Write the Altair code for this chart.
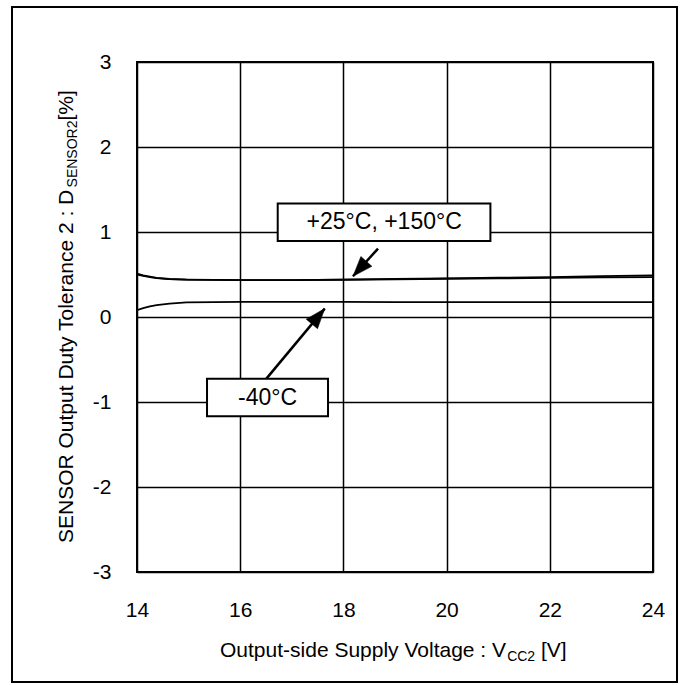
import altair as alt
import pandas as pd

# ---- data ----
voltage = [14.0, 14.12, 14.25, 14.38, 14.63, 14.96, 15.5, 16.0, 17.0, 18.0, 19.0, 20.0, 21.0, 22.0, 23.0, 24.0]
tol_p25 = [0.51, 0.49, 0.475, 0.46, 0.447, 0.44, 0.437, 0.435, 0.435, 0.44, 0.448, 0.455, 0.462, 0.47, 0.48, 0.49]
tol_p150 = [0.50, 0.485, 0.47, 0.458, 0.445, 0.44, 0.437, 0.435, 0.435, 0.438, 0.443, 0.45, 0.455, 0.46, 0.465, 0.47]
tol_m40 = [0.08, 0.105, 0.125, 0.14, 0.158, 0.172, 0.176, 0.177, 0.177, 0.177, 0.176, 0.176, 0.175, 0.175, 0.175, 0.175]

x_ticks = [14, 16, 18, 20, 22, 24]
y_ticks = [-3, -2, -1, 0, 1, 2, 3]

ann_labels = ["+25°C, +150°C", "-40°C"]
box_x1 = [16.727, 15.357]
box_x2 = [20.849, 17.702]
box_y1 = [1.334, -0.725]
box_y2 = [0.894, -1.168]
text_x = [18.79, 16.53]
text_y = [1.038, -1.039]
arrow_x1 = [18.671, 16.508]
arrow_y1 = [0.805, -0.725]
arrow_x2 = [18.186, 17.638]
arrow_y2 = [0.479, 0.099]
arrow_angle = [222, 40]

FONT = "Liberation Sans"
PW, PH = 516, 510
PL, PT = 137, 62

rows = []
for name, vals in [("+25", tol_p25), ("+150", tol_p150), ("-40", tol_m40)]:
    for v, d in zip(voltage, vals):
        rows.append({"series": name, "v": v, "d": d})
lines_df = pd.DataFrame(rows)

ann_df = pd.DataFrame({
    "label": ann_labels, "bx1": box_x1, "bx2": box_x2, "by1": box_y1, "by2": box_y2,
    "tx": text_x, "ty": text_y, "ax1": arrow_x1, "ay1": arrow_y1,
    "ax2": arrow_x2, "ay2": arrow_y2, "ang": arrow_angle,
})

xscale = alt.Scale(domain=[14, 24], nice=False, zero=False)
yscale = alt.Scale(domain=[-3, 3], nice=False, zero=False)

xaxis = alt.Axis(values=x_ticks, title=None, grid=True, gridColor="black", gridWidth=1.5,
                 gridOpacity=1, domain=False, ticks=False, labelFont=FONT, labelFontSize=21,
                 labelColor="black", labelPadding=27, labelFlush=False,
                 labelExpr="'' + datum.value")
yaxis = alt.Axis(values=y_ticks, title=None, grid=True, gridColor="black", gridWidth=1.5,
                 gridOpacity=1, domain=False, ticks=False, labelFont=FONT, labelFontSize=21,
                 labelColor="black", labelPadding=26, labelFlush=False,
                 labelExpr="'' + datum.value")

lines = alt.Chart(lines_df).mark_line(color="black", strokeWidth=1.8, clip=True).encode(
    x=alt.X("v:Q", scale=xscale, axis=xaxis),
    y=alt.Y("d:Q", scale=yscale, axis=yaxis),
    detail="series:N",
)

base_ann = alt.Chart(ann_df)
boxes = base_ann.mark_rect(fill="white", stroke="black", strokeWidth=2).encode(
    x=alt.X("bx1:Q", scale=xscale), x2="bx2:Q",
    y=alt.Y("by1:Q", scale=yscale), y2="by2:Q",
)
labels = base_ann.mark_text(font=FONT, fontSize=23, color="black", align="center",
                            baseline="alphabetic").encode(
    x=alt.X("tx:Q", scale=xscale), y=alt.Y("ty:Q", scale=yscale), text="label:N",
)
arrows = base_ann.mark_rule(color="black", strokeWidth=2.5).encode(
    x=alt.X("ax1:Q", scale=xscale), y=alt.Y("ay1:Q", scale=yscale),
    x2="ax2:Q", y2="ay2:Q",
)
heads = base_ann.mark_point(shape="M0,0L-0.37,1L0.37,1Z", filled=True, fill="black",
                            stroke="black", strokeWidth=0.5, opacity=1, size=1600).encode(
    x=alt.X("ax2:Q", scale=xscale), y=alt.Y("ay2:Q", scale=yscale),
    angle=alt.Angle("ang:Q", scale=None),
)

one = pd.DataFrame({"k": [0]})
frame = alt.Chart(one).mark_rect(fillOpacity=0, stroke="black", strokeWidth=2).encode(
    x=alt.value(12 - PL), x2=alt.value(677 - PL),
    y=alt.value(7 - PT), y2=alt.value(682 - PT),
)

def txt(s, x, y, size, angle=0):
    return alt.Chart(one).mark_text(text=s, font=FONT, fontSize=size, color="black",
                                    align="left", baseline="alphabetic", angle=angle).encode(
        x=alt.value(x), y=alt.value(y))

# x title: "Output-side Supply Voltage : V" + sub "CC2" + " [V]"
xt_x, xt_y = 83, 595
w1 = 13.674 * 21
xt = [
    txt("Output-side Supply Voltage : V", xt_x, xt_y, 21),
    txt("CC2", xt_x + w1, xt_y + 4, 14),
    txt("[V]", xt_x + w1 + 2.0 * 14 + 0.278 * 21, xt_y, 21),
]
# y title rotated
yt_x, yt_y = -64, 481
l1 = 16.931 * 21
yt = [
    txt("SENSOR Output Duty Tolerance 2 : D", yt_x, yt_y, 21, 270),
    txt("SENSOR2", yt_x + 4, yt_y - l1, 14, 270),
    txt("[%]", yt_x, yt_y - l1 - 4.779 * 14, 21, 270),
]

chart = alt.layer(frame, lines, arrows, heads, boxes, labels, *xt, *yt).properties(
    width=PW, height=PH,
    autosize=alt.AutoSizeParams(type="none"),
    padding={"left": PL, "top": PT, "right": 686 - PL - PW, "bottom": 685 - PT - PH},
    background="white",
).configure_view(stroke="black", strokeWidth=2)

chart.save("out.html", embed_options={"renderer": "svg", "actions": False})
